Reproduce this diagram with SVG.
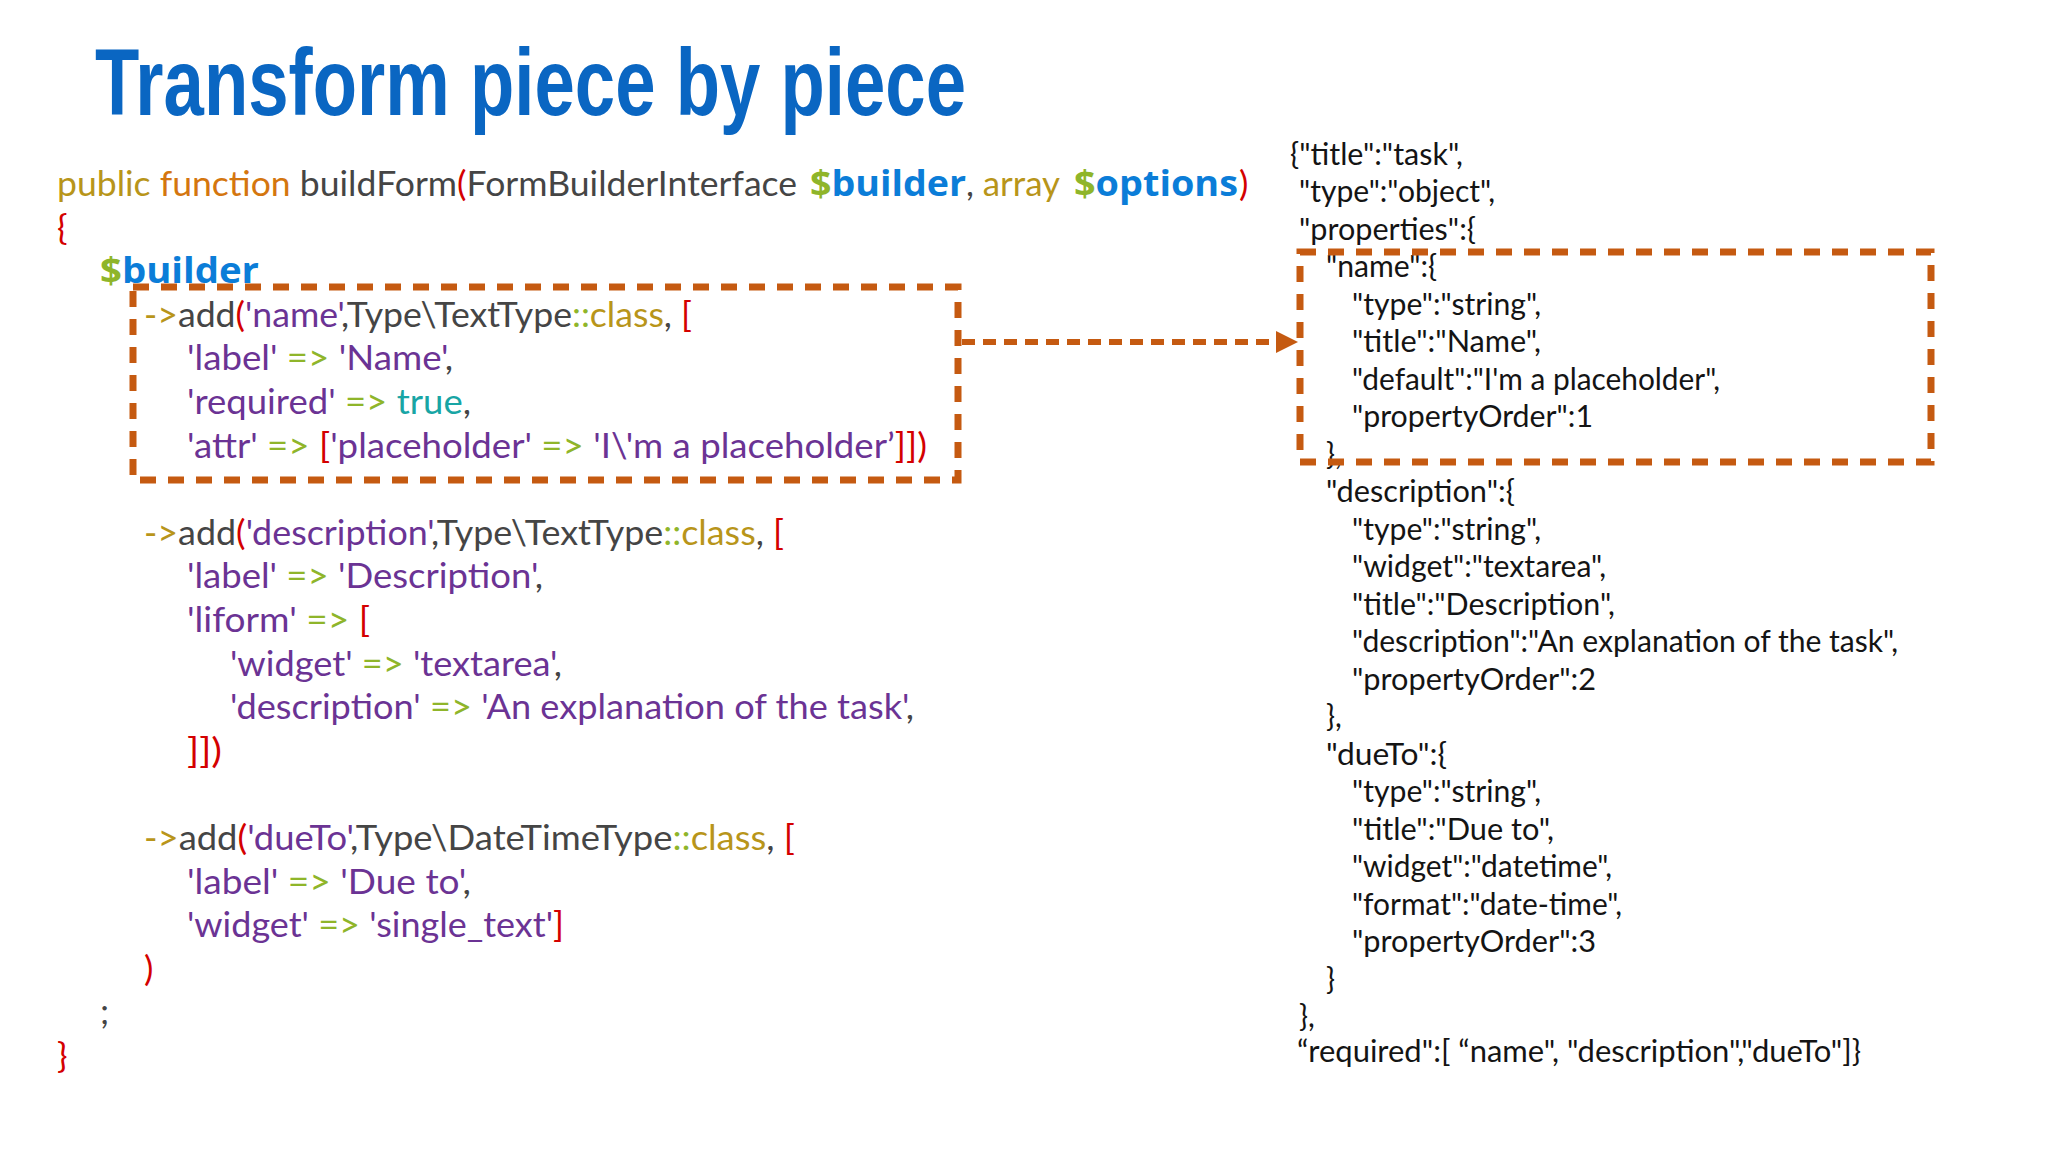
<svg xmlns="http://www.w3.org/2000/svg" width="2048" height="1152" viewBox="0 0 2048 1152">
<style>
.title{font-family:"Liberation Sans",Arial,sans-serif;font-weight:bold;font-size:94px;fill:#0a66c2}
.code{font-family:Lato,"Open Sans",sans-serif;font-size:35px;fill:#454545}
.json{font-family:Lato,"Open Sans",sans-serif;font-size:30px;fill:#141414}
.g{fill:#b8951a}.o{fill:#d4760f}.r{fill:#d40000}.p{fill:#6b3394}.gr{fill:#8fb52a}.t{fill:#18a5a5}
.b{fill:#0b7dd8;font-family:"Open Sans","Liberation Sans",sans-serif;font-weight:bold}
.bd{font-family:"Open Sans","Liberation Sans",sans-serif;font-weight:bold}
.hl{fill:none;stroke:#c55a11;stroke-width:7;stroke-dasharray:16 12}
.conn{fill:none;stroke:#c55a11;stroke-width:6;stroke-dasharray:13 8}
</style>
<defs>
<marker id="arrow" markerUnits="userSpaceOnUse" markerWidth="22" markerHeight="22" viewBox="0 0 22 22" refX="0" refY="11" orient="auto">
<path d="M0,0 L22,11 L0,22 z" fill="#c55a11"/>
</marker>
</defs>
<rect width="2048" height="1152" fill="#ffffff"/>
<text class="title" x="95" y="115" textLength="871" lengthAdjust="spacingAndGlyphs">Transform piece by piece</text>

<g id="php-code">
<text class="code" x="57" y="196" textLength="740" lengthAdjust="spacingAndGlyphs"><tspan class="g">public</tspan> <tspan class="o">function</tspan> buildForm<tspan class="r">(</tspan>FormBuilderInterface</text>
<text class="code" x="810" y="196" textLength="156" lengthAdjust="spacingAndGlyphs"><tspan class="gr bd">$</tspan><tspan class="b">builder</tspan></text>
<text class="code" x="966" y="196" textLength="94" lengthAdjust="spacingAndGlyphs">, <tspan class="g">array</tspan></text>
<text class="code" x="1074" y="196" textLength="164" lengthAdjust="spacingAndGlyphs"><tspan class="gr bd">$</tspan><tspan class="b">options</tspan></text>
<text class="code r" x="1239" y="196">)</text>
<text class="code r" x="57" y="240">{</text>
<text class="code" x="100" y="283" textLength="159" lengthAdjust="spacingAndGlyphs"><tspan class="gr bd">$</tspan><tspan class="b">builder</tspan></text>
<text class="code" x="144" y="327" textLength="548" lengthAdjust="spacingAndGlyphs"><tspan class="g">-&gt;</tspan>add<tspan class="r">(</tspan><tspan class="p">'name'</tspan>,Type\TextType<tspan class="gr">::</tspan><tspan class="g">class</tspan>, <tspan class="r">[</tspan></text>
<text class="code" x="187" y="370" textLength="266" lengthAdjust="spacingAndGlyphs"><tspan class="p">'label'</tspan> <tspan class="gr">=&gt;</tspan> <tspan class="p">'Name'</tspan>,</text>
<text class="code" x="187" y="414" textLength="284" lengthAdjust="spacingAndGlyphs"><tspan class="p">'required'</tspan> <tspan class="gr">=&gt;</tspan> <tspan class="t">true</tspan>,</text>
<text class="code" x="187" y="458" textLength="740" lengthAdjust="spacingAndGlyphs"><tspan class="p">'attr'</tspan> <tspan class="gr">=&gt;</tspan> <tspan class="r">[</tspan><tspan class="p">'placeholder'</tspan> <tspan class="gr">=&gt;</tspan> <tspan class="p">'I\'m a placeholder’</tspan><tspan class="r">]])</tspan></text>
<text class="code" x="144" y="545" textLength="640" lengthAdjust="spacingAndGlyphs"><tspan class="g">-&gt;</tspan>add<tspan class="r">(</tspan><tspan class="p">'description'</tspan>,Type\TextType<tspan class="gr">::</tspan><tspan class="g">class</tspan>, <tspan class="r">[</tspan></text>
<text class="code" x="187" y="588" textLength="356" lengthAdjust="spacingAndGlyphs"><tspan class="p">'label'</tspan> <tspan class="gr">=&gt;</tspan> <tspan class="p">'Description'</tspan>,</text>
<text class="code" x="187" y="632" textLength="183" lengthAdjust="spacingAndGlyphs"><tspan class="p">'liform'</tspan> <tspan class="gr">=&gt;</tspan> <tspan class="r">[</tspan></text>
<text class="code" x="230" y="676" textLength="332" lengthAdjust="spacingAndGlyphs"><tspan class="p">'widget'</tspan> <tspan class="gr">=&gt;</tspan> <tspan class="p">'textarea'</tspan>,</text>
<text class="code" x="230" y="719" textLength="684" lengthAdjust="spacingAndGlyphs"><tspan class="p">'description'</tspan> <tspan class="gr">=&gt;</tspan> <tspan class="p">'An explanation of the task'</tspan>,</text>
<text class="code r" x="187" y="763" textLength="35" lengthAdjust="spacingAndGlyphs">]])</text>
<text class="code" x="144" y="850" textLength="651" lengthAdjust="spacingAndGlyphs"><tspan class="g">-&gt;</tspan>add<tspan class="r">(</tspan><tspan class="p">'dueTo'</tspan>,Type\DateTimeType<tspan class="gr">::</tspan><tspan class="g">class</tspan>, <tspan class="r">[</tspan></text>
<text class="code" x="187" y="894" textLength="284" lengthAdjust="spacingAndGlyphs"><tspan class="p">'label'</tspan> <tspan class="gr">=&gt;</tspan> <tspan class="p">'Due to'</tspan>,</text>
<text class="code" x="187" y="937" textLength="377" lengthAdjust="spacingAndGlyphs"><tspan class="p">'widget'</tspan> <tspan class="gr">=&gt;</tspan> <tspan class="p">'single_text'</tspan><tspan class="r">]</tspan></text>
<text class="code r" x="144" y="981">)</text>
<text class="code" x="100" y="1024">;</text>
<text class="code r" x="57" y="1068">}</text>
</g>

<g id="json-schema">
<text class="json" x="1290" y="165" textLength="173" lengthAdjust="spacingAndGlyphs">{"title":"task",</text>
<text class="json" x="1299" y="202" textLength="196" lengthAdjust="spacingAndGlyphs">"type":"object",</text>
<text class="json" x="1299" y="240" textLength="177" lengthAdjust="spacingAndGlyphs">"properties":{</text>
<text class="json" x="1326" y="277" textLength="111" lengthAdjust="spacingAndGlyphs">"name":{</text>
<text class="json" x="1352" y="315" textLength="189" lengthAdjust="spacingAndGlyphs">"type":"string",</text>
<text class="json" x="1352" y="352" textLength="189" lengthAdjust="spacingAndGlyphs">"title":"Name",</text>
<text class="json" x="1352" y="390" textLength="368" lengthAdjust="spacingAndGlyphs">"default":"I'm a placeholder",</text>
<text class="json" x="1352" y="427" textLength="241" lengthAdjust="spacingAndGlyphs">"propertyOrder":1</text>
<text class="json" x="1326" y="465">},</text>
<text class="json" x="1326" y="502" textLength="189" lengthAdjust="spacingAndGlyphs">"description":{</text>
<text class="json" x="1352" y="540" textLength="189" lengthAdjust="spacingAndGlyphs">"type":"string",</text>
<text class="json" x="1352" y="577" textLength="254" lengthAdjust="spacingAndGlyphs">"widget":"textarea",</text>
<text class="json" x="1352" y="615" textLength="263" lengthAdjust="spacingAndGlyphs">"title":"Description",</text>
<text class="json" x="1352" y="652" textLength="546" lengthAdjust="spacingAndGlyphs">"description":"An explanation of the task",</text>
<text class="json" x="1352" y="690" textLength="244" lengthAdjust="spacingAndGlyphs">"propertyOrder":2</text>
<text class="json" x="1326" y="727">},</text>
<text class="json" x="1326" y="765" textLength="121" lengthAdjust="spacingAndGlyphs">"dueTo":{</text>
<text class="json" x="1352" y="802" textLength="189" lengthAdjust="spacingAndGlyphs">"type":"string",</text>
<text class="json" x="1352" y="840" textLength="202" lengthAdjust="spacingAndGlyphs">"title":"Due to",</text>
<text class="json" x="1352" y="877" textLength="260" lengthAdjust="spacingAndGlyphs">"widget":"datetime",</text>
<text class="json" x="1352" y="915" textLength="270" lengthAdjust="spacingAndGlyphs">"format":"date-time",</text>
<text class="json" x="1352" y="952" textLength="244" lengthAdjust="spacingAndGlyphs">"propertyOrder":3</text>
<text class="json" x="1326" y="990">}</text>
<text class="json" x="1299" y="1027">},</text>
<text class="json" x="1297" y="1062" textLength="564" lengthAdjust="spacingAndGlyphs">“required":[ “name", "description","dueTo"]}</text>
</g>

<g id="highlight-php">
<rect class="hl" x="133" y="287" width="825" height="193"/>
</g>
<g id="highlight-json">
<rect class="hl" x="1300" y="252" width="631" height="210"/>
</g>
<g id="connectors">
<path class="conn" d="M962,342 H1276" marker-end="url(#arrow)"/>
</g>
</svg>
